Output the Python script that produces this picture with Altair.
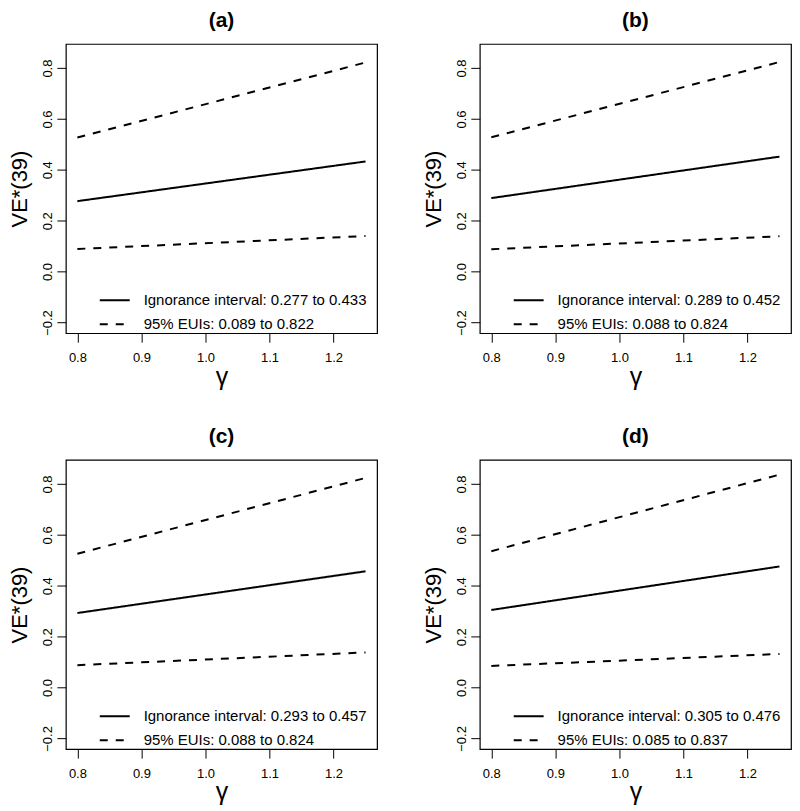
import altair as alt
import pandas as pd

# ---- data ----
panel_titles = ["(a)", "(b)", "(c)", "(d)"]
gamma_ends = [0.8, 1.25]
ign_start = [0.277, 0.289, 0.293, 0.305]
ign_end = [0.433, 0.452, 0.457, 0.476]
eui_up_start = [0.527, 0.528, 0.526, 0.536]
eui_up_end = [0.822, 0.824, 0.824, 0.837]
eui_lo_start = [0.089, 0.088, 0.088, 0.085]
eui_lo_end = [0.140, 0.139, 0.138, 0.132]
x_ticks = [0.8, 0.9, 1.0, 1.1, 1.2]
y_ticks = [-0.2, 0.0, 0.2, 0.4, 0.6, 0.8]

FONT = "Liberation Sans"


def panel(i):
    lab_i = f"Ignorance interval: {ign_start[i]:.3f} to {ign_end[i]:.3f}"
    lab_e = f"95% EUIs: {eui_lo_start[i]:.3f} to {eui_up_end[i]:.3f}"
    rows = []
    for series, label, ys in [
        ("ign", lab_i, [ign_start[i], ign_end[i]]),
        ("up", lab_e, [eui_up_start[i], eui_up_end[i]]),
        ("lo", lab_e, [eui_lo_start[i], eui_lo_end[i]]),
    ]:
        for g, y in zip(gamma_ends, ys):
            rows.append(dict(gamma=g, ve=y, series=series, legend=label))
    df = pd.DataFrame(rows)
    return (
        alt.Chart(df)
        .mark_line(color="black", strokeWidth=2)
        .encode(
            x=alt.X(
                "gamma:Q",
                scale=alt.Scale(domain=[0.782, 1.268], nice=False, zero=False),
                axis=alt.Axis(
                    values=x_ticks, format=".1f", title="γ", domain=False, grid=False,
                    tickSize=9, tickColor="black", tickWidth=1,
                    labelFont=FONT, labelFontSize=13, labelColor="black", labelPadding=9,
                    labelFlush=False,
                    titleFont=FONT, titleFontSize=25, titleFontWeight="normal",
                    titleColor="black", titlePadding=0,
                ),
            ),
            y=alt.Y(
                "ve:Q",
                scale=alt.Scale(domain=[-0.242, 0.895], nice=False, zero=False),
                axis=alt.Axis(
                    values=y_ticks, format=".1f", title="VE*(39)", domain=False, grid=False,
                    tickSize=9, tickColor="black", tickWidth=1,
                    labelFont=FONT, labelFontSize=13, labelColor="black", labelPadding=2,
                    labelAngle=270, labelAlign="center", labelBaseline="bottom",
                    labelFlush=False,
                    titleFont=FONT, titleFontSize=22, titleFontWeight="normal",
                    titleColor="black", titlePadding=10,
                ),
            ),
            detail="series:N",
            strokeDash=alt.StrokeDash(
                "legend:N",
                scale=alt.Scale(domain=[lab_i, lab_e], range=[[1, 0], [8, 8]]),
                legend=alt.Legend(
                    title=None, orient="none", legendX=33, legendY=241,
                    symbolType="stroke", symbolSize=900, symbolStrokeWidth=2,
                    symbolStrokeColor="black",
                    labelFont=FONT, labelFontSize=15, labelColor="black",
                    labelOffset=13, labelLimit=400, rowPadding=-14, padding=0,
                ),
            ),
        )
        .properties(
            width=312,
            height=290,
            title=alt.Title(
                panel_titles[i], font=FONT, fontSize=21, fontWeight="bold",
                color="black", anchor="middle", offset=13,
            ),
        )
    )


def row(i, j):
    return (
        alt.hconcat(panel(i), panel(j), spacing=44)
        .resolve_scale(strokeDash="independent")
        .resolve_legend(strokeDash="independent")
    )


chart = (
    alt.vconcat(row(0, 1), row(2, 3), spacing=35)
    .resolve_scale(strokeDash="independent")
    .resolve_legend(strokeDash="independent")
    .properties(padding=0, background="white")
    .configure_view(stroke="black", strokeWidth=1.2)
)

chart.save("out.html", embed_options={"renderer": "svg", "actions": False})
